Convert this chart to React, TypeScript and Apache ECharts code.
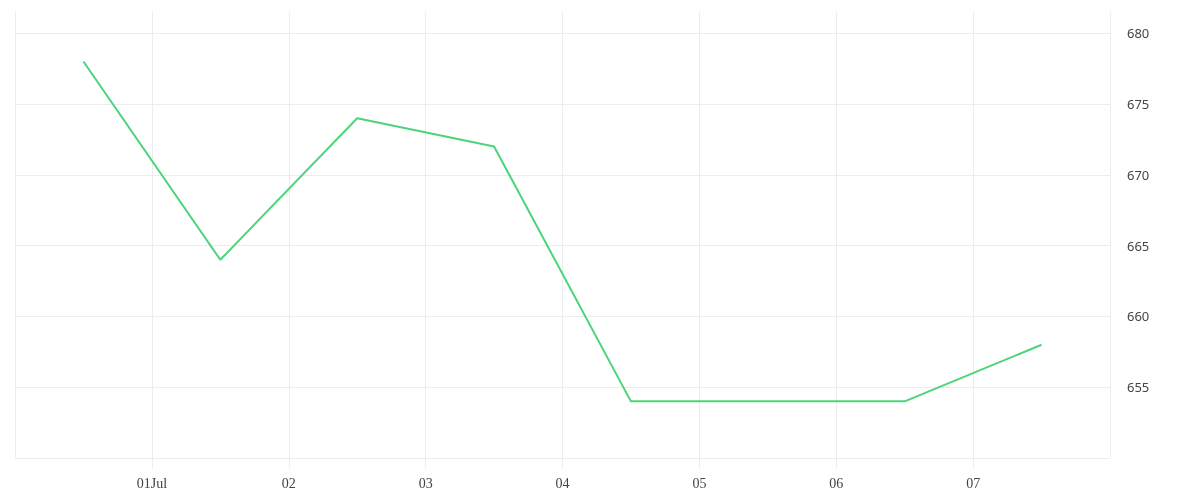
import React, { useEffect, useRef } from "react";
import * as echarts from "echarts";

const dates: string[] = [
  "2024-06-30T12:00:00Z",
  "2024-07-01T12:00:00Z",
  "2024-07-02T12:00:00Z",
  "2024-07-03T12:00:00Z",
  "2024-07-04T12:00:00Z",
  "2024-07-05T12:00:00Z",
  "2024-07-06T12:00:00Z",
  "2024-07-07T12:00:00Z",
];
const values: number[] = [678, 664, 674, 672, 654, 654, 654, 658];
const monthNames: string[] = ["Jan", "Feb", "Mar", "Apr", "May", "Jun", "Jul", "Aug", "Sep", "Oct", "Nov", "Dec"];
const xMin = Date.UTC(2024, 5, 30);
const xMax = Date.UTC(2024, 6, 8);
const DAY = 86400000;

export default function App() {
  const ref = useRef<HTMLDivElement>(null);
  useEffect(() => {
    if (!ref.current) return;
    const chart = echarts.init(ref.current, undefined, { renderer: "svg" });
    const grid = "#ececec";
    chart.setOption({
      animation: false,
      grid: { left: 15, top: 12, right: 90, bottom: 42 },
      xAxis: {
        type: "value",
        min: xMin,
        max: xMax,
        interval: DAY,
        axisLine: { show: false },
        axisTick: { show: true, length: 10, lineStyle: { color: grid } },
        splitLine: { show: true, lineStyle: { color: grid } },
        axisLabel: {
          showMinLabel: false,
          showMaxLabel: false,
          margin: 18,
          fontFamily: "serif",
          fontSize: 14,
          color: "#444",
          formatter: (v: number) => {
            const d = new Date(v);
            const day = d.getUTCDate();
            const s = day < 10 ? "0" + day : "" + day;
            return day === 1 ? s + monthNames[d.getUTCMonth()] : s;
          },
        },
      },
      yAxis: {
        type: "value",
        position: "right",
        min: 650,
        max: 681.5,
        interval: 5,
        axisLine: { show: false },
        axisTick: { show: false },
        splitLine: {
          show: true,
          lineStyle: { color: [grid, grid, grid, grid, grid, grid, grid, "rgba(0,0,0,0)"] },
        },
        axisLabel: {
          showMinLabel: false,
          showMaxLabel: false,
          margin: 17,
          padding: [4, 0, 0, 0],
          fontFamily: "Noto Sans",
          fontSize: 13,
          color: "#444",
        },
      },
      series: [
        {
          type: "line",
          data: dates.map((d, i) => [Date.parse(d), values[i]]),
          showSymbol: false,
          lineStyle: { color: "#4cd47a", width: 2 },
          itemStyle: { color: "#4cd47a" },
        },
      ],
    });
    return () => chart.dispose();
  }, []);
  return <div ref={ref} style={{ position: "fixed", left: 0, top: 0, width: 1200, height: 500 }} />;
}
